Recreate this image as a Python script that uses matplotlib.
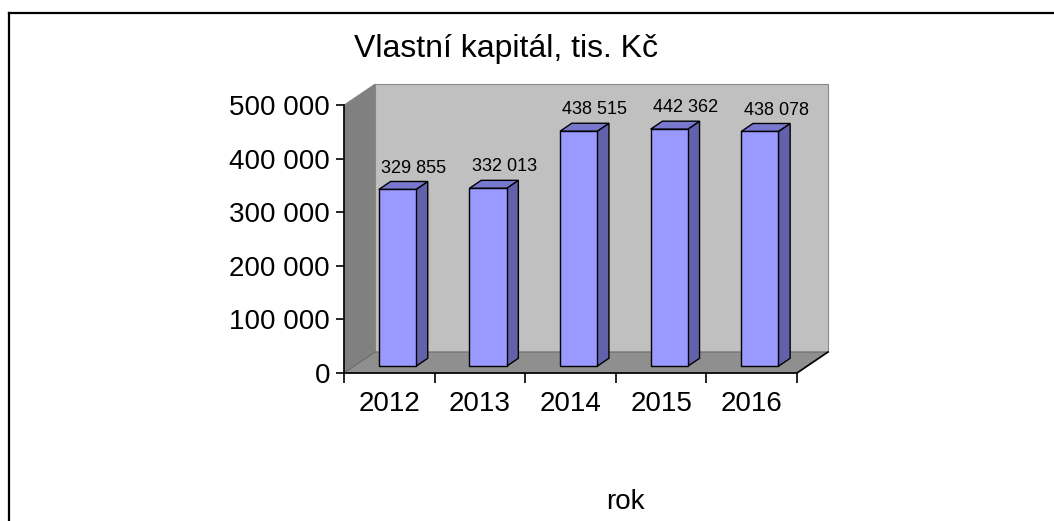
import matplotlib.pyplot as plt
from matplotlib.patches import Polygon
from matplotlib.lines import Line2D

plt.rcParams['font.family'] = ['Liberation Sans', 'DejaVu Sans']

years = ['2012', '2013', '2014', '2015', '2016']
values = [329855, 332013, 438515, 442362, 438078]
labels = ['329 855', '332 013', '438 515', '442 362', '438 078']
yticks = [0, 100000, 200000, 300000, 400000, 500000]
ytick_labels = ['0', '100 000', '200 000', '300 000', '400 000', '500 000']

ymax = 500000
DX = 0.342          # depth shift in category units
DY = 39200          # depth shift in value units
d0, d1 = 0.32, 0.70  # bar depth range
bw = 0.41

def p(x, y, d):
    return (x + d * DX, y + d * DY)

fig = plt.figure(figsize=(10.54, 5.21), dpi=100)
ax = fig.add_axes([344 / 1054, 1 - 373 / 521, 453 / 1054, 268 / 521])
ax.set_xlim(0, len(years))
ax.set_ylim(0, ymax)
ax.patch.set_alpha(0)

n = len(years)
# walls and floor
back = [p(0, 0, 1), p(n, 0, 1), p(n, ymax, 1), p(0, ymax, 1)]
left = [p(0, 0, 0), p(0, 0, 1), p(0, ymax, 1), p(0, ymax, 0)]
floor = [p(0, 0, 0), p(n, 0, 0), p(n, 0, 1), p(0, 0, 1)]
ax.add_patch(Polygon(back, closed=True, fc='#C0C0C0', ec='#8a8a8a', lw=0.8, clip_on=False, zorder=1))
ax.add_patch(Polygon(left, closed=True, fc='#808080', ec='#808080', lw=0.5, clip_on=False, zorder=1))
ax.add_patch(Polygon(floor, closed=True, fc='#8F8F8F', ec='#6a6a6a', lw=0.8, clip_on=False, zorder=1))
ax.add_line(Line2D([p(n, 0, 0)[0], p(n, 0, 1)[0]], [0, DY], color='black', lw=1.2, clip_on=False, zorder=2))

for i, v in enumerate(values):
    xl = i + 0.48 - bw / 2
    xr = xl + bw
    front = [p(xl, 0, d0), p(xr, 0, d0), p(xr, v, d0), p(xl, v, d0)]
    top = [p(xl, v, d0), p(xr, v, d0), p(xr, v, d1), p(xl, v, d1)]
    side = [p(xr, 0, d0), p(xr, 0, d1), p(xr, v, d1), p(xr, v, d0)]
    ax.add_patch(Polygon(side, closed=True, fc='#6262AC', ec='black', lw=1.0, clip_on=False, zorder=3))
    ax.add_patch(Polygon(top, closed=True, fc='#7878CE', ec='black', lw=1.0, clip_on=False, zorder=3))
    ax.add_patch(Polygon(front, closed=True, fc='#9999FF', ec='black', lw=1.0, clip_on=False, zorder=3))
    cx, cy = p((xl + xr) / 2, v, d0)
    ax.text(cx + 0.18, cy + 40000, labels[i], ha='center', va='center', fontsize=13, zorder=4)

for s in ['top', 'right']:
    ax.spines[s].set_visible(False)
for s in ['left', 'bottom']:
    ax.spines[s].set_color('black')
    ax.spines[s].set_linewidth(1.2)
    ax.spines[s].set_zorder(5)

ax.set_yticks(yticks)
ax.set_yticklabels(ytick_labels, fontsize=20)
ax.tick_params(axis='y', length=6, width=1.2, pad=4)
ax.set_xticks(range(n + 1))
ax.set_xticklabels([''] * (n + 1))
ax.set_xticks([i + 0.5 for i in range(n)], minor=True)
ax.set_xticklabels(years, minor=True, fontsize=20)
ax.tick_params(axis='x', which='major', length=7, width=1.2, direction='out')
ax.tick_params(axis='x', which='minor', length=0, pad=13)

fig.text(506 / 1054, 1 - 57 / 521, 'Vlastní kapitál, tis. Kč', ha='center', va='baseline', fontsize=23)
fig.text(625 / 1054, 1 - 502 / 521, 'rok', ha='center', va='center', fontsize=20)

fig.add_artist(Line2D([8.5 / 1054, 1], [1 - 12.5 / 521] * 2, color='black', lw=1.6, transform=fig.transFigure))
fig.add_artist(Line2D([8.5 / 1054] * 2, [0, 1 - 12.5 / 521], color='black', lw=1.6, transform=fig.transFigure))

fig.savefig('out.png', dpi=100)
